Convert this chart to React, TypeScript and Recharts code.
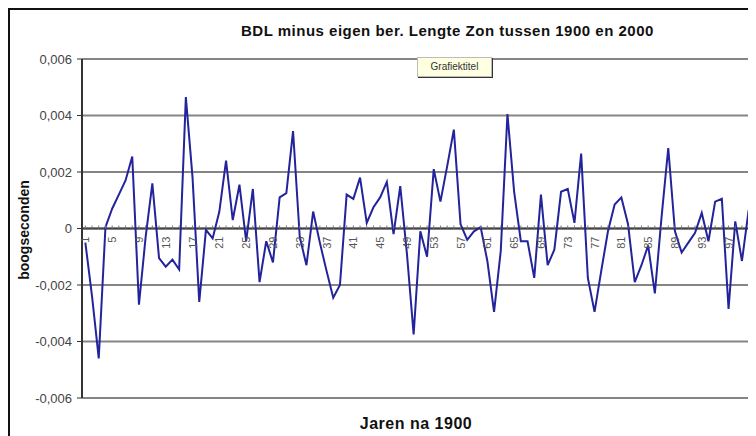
import { CartesianGrid, ComposedChart, Line, ReferenceLine, XAxis, YAxis } from "recharts";

// jaren na 1900
const jaren = [
  1, 2, 3, 4, 5, 6, 7, 8, 9, 10, 11, 12, 13, 14, 15, 16, 17, 18, 19, 20,
  21, 22, 23, 24, 25, 26, 27, 28, 29, 30, 31, 32, 33, 34, 35, 36, 37, 38, 39, 40,
  41, 42, 43, 44, 45, 46, 47, 48, 49, 50, 51, 52, 53, 54, 55, 56, 57, 58, 59, 60,
  61, 62, 63, 64, 65, 66, 67, 68, 69, 70, 71, 72, 73, 74, 75, 76, 77, 78, 79, 80,
  81, 82, 83, 84, 85, 86, 87, 88, 89, 90, 91, 92, 93, 94, 95, 96, 97, 98, 99, 100,
];

// BDL minus eigen berekening, boogseconden
const verschil = [
  -0.0005, -0.0024, -0.0046, 0.00005, 0.0007, 0.0012, 0.0017, 0.00255, -0.0027, -0.0003,
  0.0016, -0.00105, -0.00135, -0.0011, -0.00145, 0.00465, 0.0018, -0.0026, -0.00005, -0.00035,
  0.0006, 0.0024, 0.0003, 0.00155, -0.00045, 0.0014, -0.0019, -0.00045, -0.0012, 0.0011,
  0.00125, 0.00345, -0.0003, -0.0013, 0.0006, -0.0005, -0.0015, -0.00245, -0.002, 0.0012,
  0.00105, 0.0018, 0.0002, 0.00075, 0.0011, 0.00165, -0.0002, 0.0015, -0.0009, -0.00375,
  -0.0001, -0.001, 0.0021, 0.00095, 0.0022, 0.0035, 0.00015, -0.0004, -0.0001, 0.00005,
  -0.00115, -0.00295, -0.0008, 0.00405, 0.0013, -0.00045, -0.00045, -0.00175, 0.0012, -0.0013,
  -0.00075, 0.0013, 0.0014, 0.0002, 0.00265, -0.00175, -0.00295, -0.0015, -0.0001, 0.00085,
  0.0011, 0.00015, -0.0019, -0.0013, -0.0006, -0.0023, 0.0004, 0.00285, -0.0001, -0.00085,
  -0.0005, -0.00015, 0.00055, -0.00045, 0.00095, 0.00105, -0.00285, 0.00025, -0.00115, 0.00065,
];

const yTicks = [-0.006, -0.004, -0.002, 0, 0.002, 0.004, 0.006];
const labelEvery = 4;

const data = jaren.map((j, i) => ({ jaar: String(j), bdl: verschil[i], as: 0 }));

const font = "'Liberation Sans', Arial, sans-serif";

function fmtTick(v: number) {
  if (v === 0) return "0";
  return v.toFixed(3).replace(".", ",");
}

// tick marks + rotated labels on the zero line (Excel category axis crosses at 0)
function AxisTick(props: any) {
  const { cx, cy, index, payload } = props;
  if (cx == null || cy == null) return <g key={`t-${index}`} />;
  return (
    <g key={`t-${index}`}>
      <line x1={cx} x2={cx} y1={cy - 3} y2={cy} stroke="#777" strokeWidth={1} />
      {index % labelEvery === 0 && (
        <text
          x={cx}
          y={cy + 8}
          transform={`rotate(-90 ${cx} ${cy + 8})`}
          textAnchor="end"
          dominantBaseline="central"
          fontSize={11}
          fontFamily={font}
          fill="#555"
        >
          {payload.jaar}
        </text>
      )}
    </g>
  );
}

export default function App() {
  return (
    <div
      style={{
        position: "relative",
        width: 748,
        height: 428,
        borderTop: "2px solid #111",
        borderLeft: "2px solid #111",
        boxSizing: "border-box",
        background: "#fff",
        fontFamily: font,
        color: "#111",
      }}
    >
      <div
        style={{
          position: "absolute",
          left: 231,
          top: 12,
          fontSize: 15,
          letterSpacing: 0.5,
          fontWeight: "bold",
          whiteSpace: "nowrap",
        }}
      >
        BDL minus eigen ber. Lengte Zon tussen 1900 en 2000
      </div>
      {/* plot area frame, right side */}
      <div
        style={{
          position: "absolute",
          left: 741,
          top: 49,
          width: 0,
          height: 339,
          borderLeft: "1px solid #aaa",
        }}
      />
      <div style={{ position: "absolute", left: 0, top: 0 }}>
        <ComposedChart width={746} height={426} data={data} margin={{ top: 49, right: 4, bottom: 38, left: 12 }}>
          <CartesianGrid vertical={false} stroke="#858585" strokeWidth={2} />
          <XAxis dataKey="jaar" type="category" scale="band" hide />
          <YAxis
            domain={[-0.006, 0.006]}
            ticks={yTicks}
            interval={0}
            width={60}
            tickFormatter={fmtTick}
            tick={{ fontSize: 13, fill: "#444", fontFamily: font }}
            tickSize={5}
            tickMargin={5}
            axisLine={{ stroke: "#333", strokeWidth: 2 }}
            tickLine={{ stroke: "#333" }}
          />
          <ReferenceLine y={0} stroke="#444" strokeWidth={2} />
          <Line dataKey="as" stroke="none" dot={AxisTick} activeDot={false} isAnimationActive={false} />
          <Line
            dataKey="bdl"
            stroke="#23239b"
            strokeWidth={2}
            dot={false}
            activeDot={false}
            isAnimationActive={false}
          />
        </ComposedChart>
      </div>
      <div
        style={{
          position: "absolute",
          left: 407,
          top: 47,
          width: 73,
          height: 18,
          background: "#ffffe1",
          border: "1px solid #bbb",
          boxShadow: "1px 1px 0 #333",
          fontSize: 10,
          lineHeight: "18px",
          textAlign: "center",
          color: "#333",
        }}
      >
        Grafiektitel
      </div>
      <div
        style={{
          position: "absolute",
          left: 14,
          top: 220,
          transform: "translate(-50%, -50%) rotate(-90deg)",
          fontSize: 14,
          fontWeight: "bold",
          whiteSpace: "nowrap",
        }}
      >
        boogseconden
      </div>
      <div
        style={{
          position: "absolute",
          left: 406,
          top: 414,
          transform: "translate(-50%, -50%)",
          fontSize: 16,
          letterSpacing: 0.5,
          fontWeight: "bold",
          whiteSpace: "nowrap",
        }}
      >
        Jaren na 1900
      </div>
    </div>
  );
}
